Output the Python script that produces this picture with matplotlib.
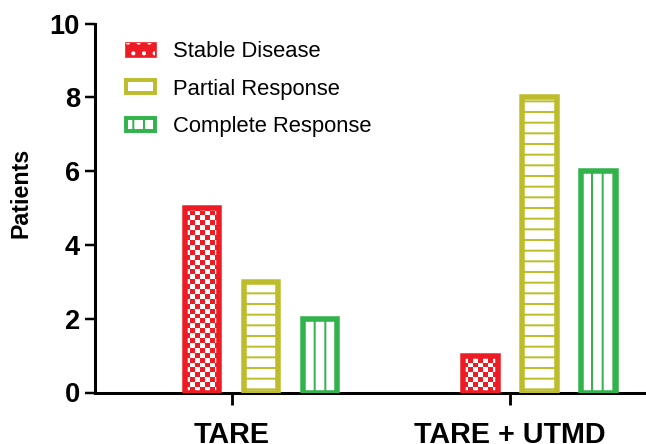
import numpy as np
import matplotlib
matplotlib.use("Agg")
import matplotlib.pyplot as plt
from matplotlib.patches import Patch
from matplotlib.legend_handler import HandlerTuple

plt.rcParams["font.family"] = ["Liberation Sans", "DejaVu Sans"]
plt.rcParams["hatch.linewidth"] = 1.1

# data
groups = ["TARE", "TARE + UTMD"]
series = ["Stable Disease", "Partial Response", "Complete Response"]
stable = [5, 1]
partial = [3, 8]
complete = [2, 6]
values = [stable, partial, complete]

colors = ["#ED1C24", "#BDBD2C", "#2FB34A"]
hatches = [None, "--", "||"]
offsets = [-0.106, 0.106, 0.318]
width = 0.123
lw = 3.1

DPI = 128
fig = plt.figure(figsize=(646 / DPI, 444 / DPI), dpi=DPI)
ax = fig.add_axes([95 / 646, 51.5 / 444, 551 / 646, 369 / 444])
ax.set_xlim(-0.491, 1.489)
ax.set_ylim(0, 10)

pos = np.arange(len(groups))
for i, vals in enumerate(values):
    xs = pos + offsets[i]
    if hatches[i] is None:
        # checkerboard bars: red face, white squares clipped to each bar, then outline
        bars = ax.bar(xs, vals, width, color=colors[i], edgecolor="none", zorder=1)
        p0, p1 = ax.transData.transform([(0, 0), (1, 1)])
        px_x, px_y = p1 - p0
        for b in bars:
            ncol = 7
            cell_px = b.get_width() * px_x / ncol
            nrow = max(1, int(round(b.get_height() * px_y / cell_px)))
            jj, ii = np.meshgrid(np.arange(ncol), np.arange(nrow))
            img = np.zeros((nrow, ncol, 4))
            white = (ii + jj) % 2 == 0
            img[white] = [1, 1, 1, 1]
            top = nrow * cell_px / px_y
            im = ax.imshow(img, extent=[b.get_x(), b.get_x() + b.get_width(), 0, top],
                           origin="lower", interpolation="nearest", aspect="auto", zorder=2)
            im.set_clip_path(b)
        ax.bar(xs, vals, width, facecolor="none", edgecolor=colors[i], linewidth=lw, zorder=3)
    else:
        ax.bar(xs, vals, width, facecolor="white", edgecolor=colors[i], linewidth=lw,
               hatch=hatches[i], zorder=3)

ax.set_xlim(-0.491, 1.489)
ax.set_ylim(0, 10)

for s in ["top", "right"]:
    ax.spines[s].set_visible(False)
for s in ["left", "bottom"]:
    ax.spines[s].set_linewidth(1.7)

ax.set_yticks(np.arange(0, 11, 2))
ax.set_xticks(pos)
ax.set_xticklabels(groups)
ax.tick_params(axis="y", length=5.6, width=1.4, pad=2.8, labelsize=15.3)
ax.tick_params(axis="x", length=6.5, width=1.6, pad=9.8, labelsize=16.2)
for lab in ax.get_xticklabels() + ax.get_yticklabels():
    lab.set_fontweight("bold")

ax.set_ylabel("Patients", fontsize=13.1, fontweight="bold")
ax.yaxis.set_label_coords(-0.113, 0.54)

handles = [
    (Patch(facecolor=colors[0], edgecolor=colors[0], linewidth=1.5),
     Patch(facecolor="none", edgecolor="white", linewidth=0, hatch="..")),
    Patch(facecolor="white", edgecolor=colors[1], linewidth=2.2),
    Patch(facecolor="white", edgecolor=colors[2], linewidth=2.2, hatch="||"),
]
ax.legend(handles, series, loc="upper left", bbox_to_anchor=(126 / 646, 1 - 41 / 444),
          bbox_transform=fig.transFigure, frameon=False, borderpad=0, borderaxespad=0,
          handlelength=1.32, handleheight=0.55, handletextpad=0.8, labelspacing=0.75,
          fontsize=12.4, handler_map={tuple: HandlerTuple(ndivide=1)})

fig.savefig("out.png", dpi=DPI)
